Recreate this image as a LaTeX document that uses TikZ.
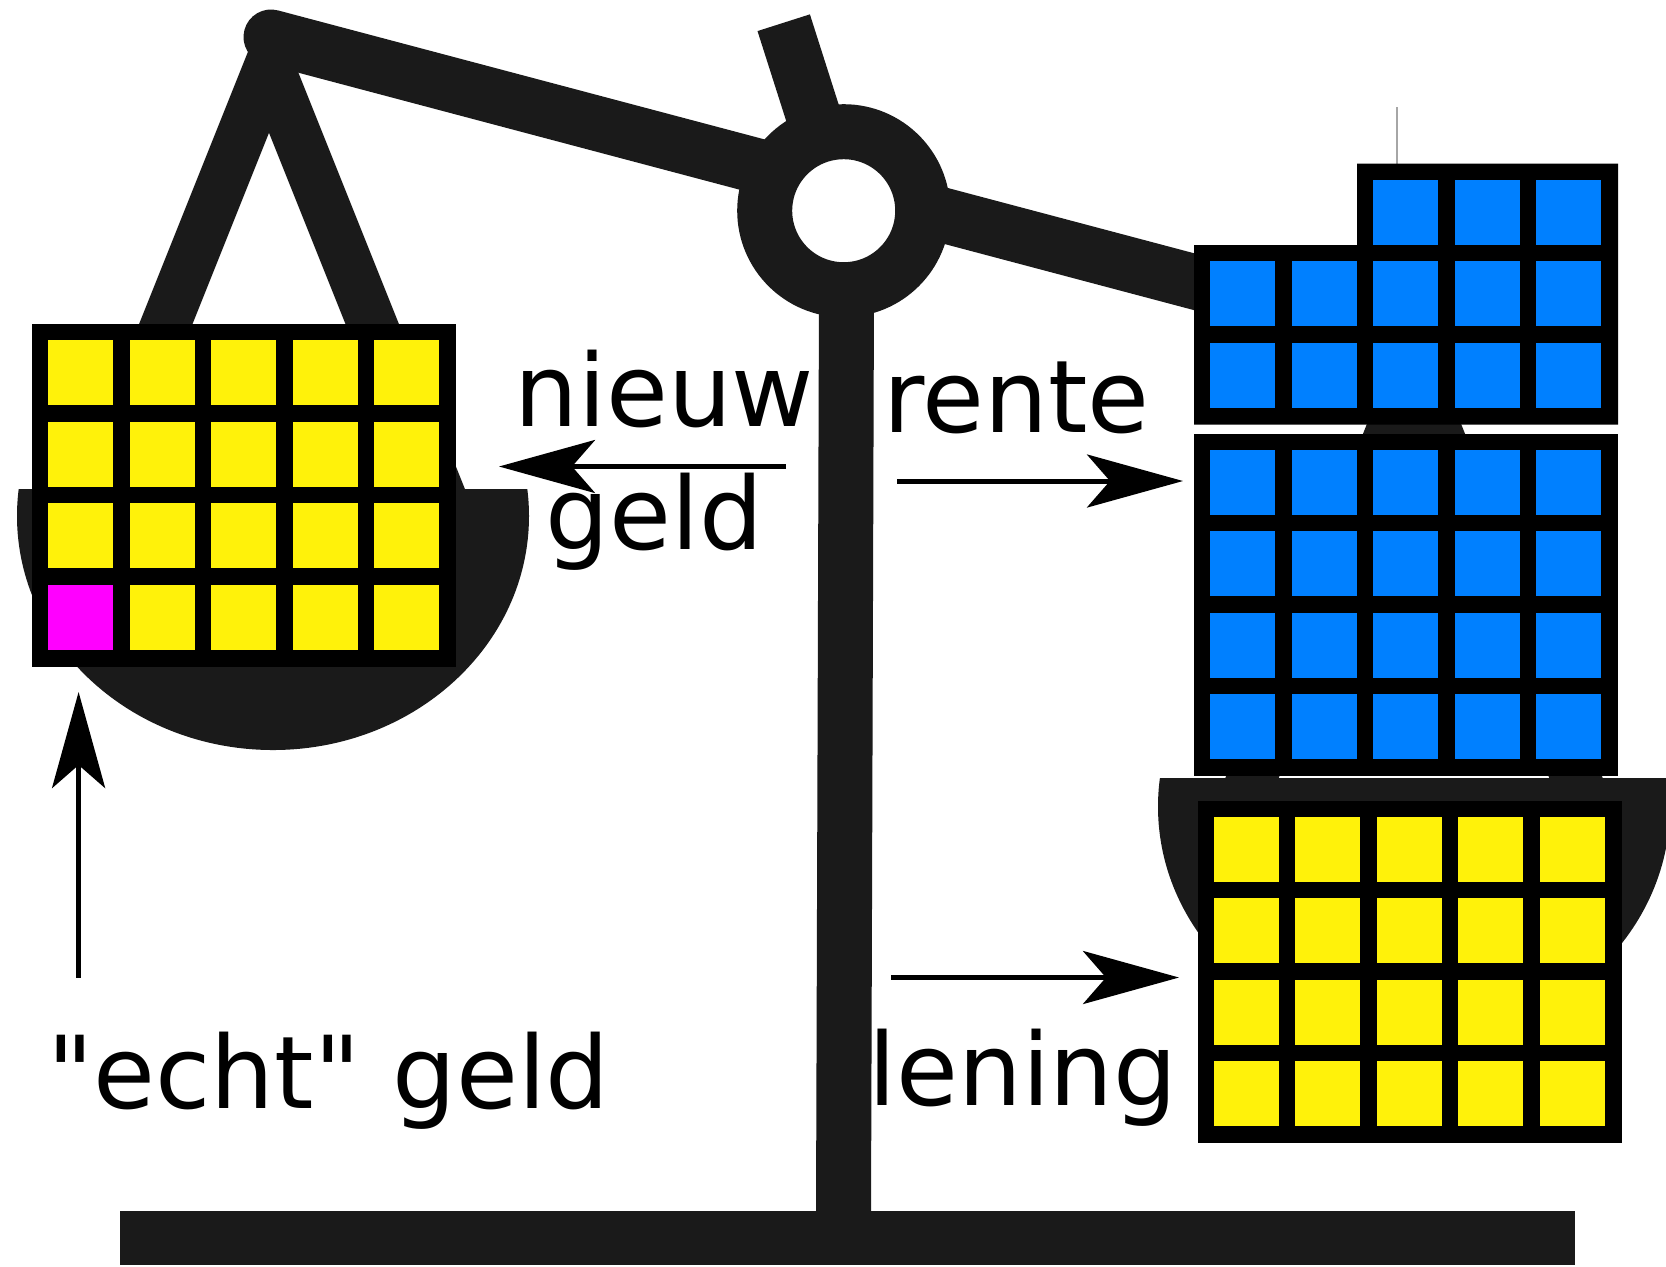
\documentclass[tikz,border=0pt]{standalone}
\usepackage{fontspec}
\newfontfamily\labelfont{DejaVu Sans}
\usetikzlibrary{arrows.meta}
\definecolor{scaledark}{HTML}{1A1A1A}
\definecolor{cellblue}{HTML}{0080FF}
\definecolor{cellyellow}{HTML}{FFF20A}
\definecolor{cellpink}{HTML}{FF00FF}
\tikzset{
  beamline/.style={draw=scaledark,line width=27.5pt},
  ropeline/.style={draw=scaledark,line width=24.8pt},
  panfill/.style={fill=scaledark},
  blockbox/.style={fill=black},
  flowarrow/.style={draw=black,line width=2.5pt,-{Stealth[length=48pt,width=26.5pt,inset=11.5pt]}},
  wordlabel/.style={font=\labelfont\fontsize{50.3pt}{58pt}\selectfont,anchor=base west,inner sep=0pt,text=black}
}
\newcommand{\cellgrid}[5]{% x0 y0 cols rows colour
  \foreach \cx in {1,...,#3}{\foreach \cy in {1,...,#4}{
    \fill[#5] ({#1+16+81.5*(\cx-1)},{#2+16+81.6*(\cy-1)}) rectangle ++(65,65);
  }}}
\begin{document}
\begin{tikzpicture}[x=0.5pt,y=-0.5pt]
\useasboundingbox (0,0) rectangle (1666,1266);
\clip (0,0) rectangle (1666,1266);
% named points
\coordinate (ringc) at (843.7,210.7);
\coordinate (lapexL) at (271.8,59);
\coordinate (lapexR) at (266.2,59);
\coordinate (rapex) at (1414,373);
\coordinate (beamL) at (271,37);
\coordinate (beamR) at (1414,340);
% base and post
\fill[scaledark] (120,1211) rectangle (1575,1265);
\fill[scaledark] (819,290) -- (874,290) -- (871,1215) -- (816,1215) -- cycle;
% beam
\draw[beamline,line cap=round] (beamL) -- (beamR);
\draw[beamline] (ringc)+(-60,-188) -- (ringc);
% left ropes and pan
\draw[ropeline] (lapexL) -- (95.4,500);
\draw[ropeline] (lapexR) -- (442.6,500);
\begin{scope}
  \clip (0,489) rectangle (600,800);
  \fill[panfill] (273,516) ellipse [x radius=256,y radius=234];
\end{scope}
% right ropes and pan
\draw[ropeline] (rapex) -- (1240,808);
\draw[ropeline] (rapex) -- (1588,808);
\begin{scope}
  \clip (1100,778.6) rectangle (1666,1100);
  \fill[panfill] (1414,806.6) ellipse [x radius=256,y radius=234];
\end{scope}
% ring
\fill[white] (ringc) circle [radius=55];
\draw[draw=scaledark,line width=27.5pt] (ringc) circle [radius=79];
% left block
\fill[blockbox] (32,324) rectangle (455.5,667);
\cellgrid{32}{324}{5}{4}{cellyellow}
\fill[cellpink] (48,584.8) rectangle ++(65,65);
% right yellow block
\fill[blockbox] (1197.5,800.5) rectangle (1622,1143);
\cellgrid{1197.5}{800.5}{5}{4}{cellyellow}
% lower blue block
\fill[blockbox] (1194,433.5) rectangle (1618,775.5);
\cellgrid{1194}{433.5}{5}{4}{cellblue}
% upper blue block
\draw[gray!70,line width=0.8pt] (1397,107) -- (1397,166);
\fill[blockbox] (1194,245) -- (1357,245) -- (1357,163.5) -- (1618,163.5) -- (1618,424.5) -- (1194,424.5) -- cycle;
\cellgrid{1194}{245.1}{5}{2}{cellblue}
\cellgrid{1357}{163.5}{3}{1}{cellblue}
% arrows
\coordinate (a1s) at (786,466.5);   \coordinate (a1e) at (499,466.5);
\coordinate (a2s) at (897,481);   \coordinate (a2e) at (1183,481);
\coordinate (a3s) at (891,977.5); \coordinate (a3e) at (1179,977.5);
\coordinate (a4s) at (78.6,977.5);\coordinate (a4e) at (78.6,692);
\draw[flowarrow] (a1s) -- (a1e);
\draw[flowarrow] (a2s) -- (a2e);
\draw[flowarrow] (a3s) -- (a3e);
\draw[flowarrow] (a4s) -- (a4e);
% labels
\node[wordlabel] (nieuw) at (514,426) {nieuw};
\node[wordlabel] (geld) at (545,549) {geld};
\node[wordlabel] (rente) at (883,432) {rente};
\node[wordlabel] (lening) at (868,1105) {lening};
\node[wordlabel] (echt) at (47,1108) {"echt" geld};
\end{tikzpicture}
\end{document}
